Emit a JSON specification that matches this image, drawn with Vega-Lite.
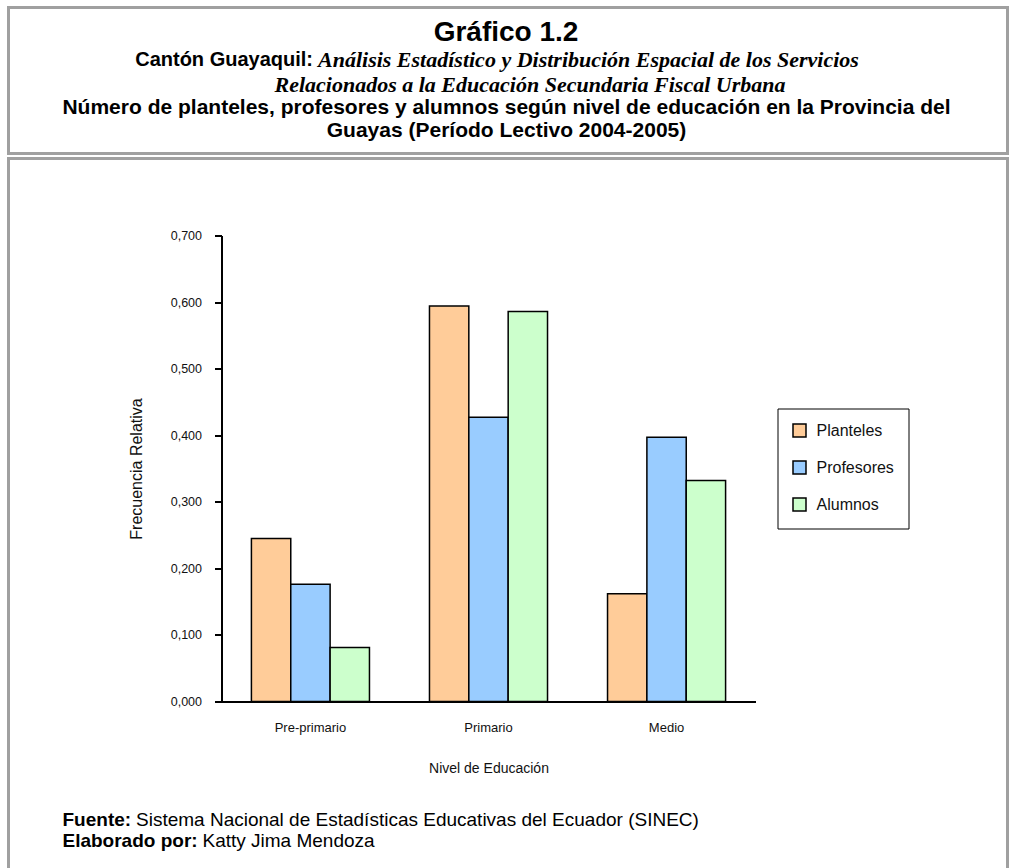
{
  "$schema": "https://vega.github.io/schema/vega-lite/v6.json",
  "padding": {"left": 6.5, "top": 5.5, "right": 0, "bottom": 0},
  "background": "white",
  "spacing": 1,
  "config": {
    "font": "Liberation Sans",
    "view": {"stroke": "#a0a0a0", "strokeWidth": 3},
    "text": {"color": "black"}
  },
  "vconcat": [
    {
      "width": 999,
      "height": 146,
      "encoding": {
        "y": {"field": "line", "type": "ordinal", "axis": null, "scale": {"type": "point", "padding": 0, "domain": [1, 2, 3, 4, 5], "range": [32, 123]}},
        "text": {"field": "text", "type": "nominal"}
      },
      "layer": [
        {
          "data": {"values": [{"line": 1, "text": "Gráfico 1.2"}]},
          "mark": {"type": "text", "fontSize": 28, "fontWeight": "bold", "align": "center", "baseline": "middle", "dy": -7, "dx": -2}
        },
        {
          "data": {"values": [{"line": 2, "text": "Cantón Guayaquil:"}]},
          "mark": {"type": "text", "fontSize": 20, "fontWeight": "bold", "align": "right", "baseline": "middle", "dx": -195, "dy": -2}
        },
        {
          "data": {"values": [{"line": 2, "text": "Análisis Estadístico y Distribución Espacial de los Servicios"}]},
          "mark": {"type": "text", "font": "Liberation Serif", "fontSize": 22, "fontWeight": "bold", "fontStyle": "italic", "align": "left", "baseline": "middle", "dx": -190, "dy": -2}
        },
        {
          "data": {"values": [{"line": 3, "text": "Relacionados  a la Educación Secundaria Fiscal Urbana"}]},
          "mark": {"type": "text", "font": "Liberation Serif", "fontSize": 22, "fontWeight": "bold", "fontStyle": "italic", "align": "center", "baseline": "middle", "dx": 22, "dy": 0}
        },
        {
          "data": {"values": [
            {"line": 4, "text": "Número de planteles, profesores y alumnos según nivel de educación en la Provincia del"},
            {"line": 5, "text": "Guayas (Período Lectivo 2004-2005)"}
          ]},
          "mark": {"type": "text", "fontSize": 21, "fontWeight": "bold", "align": "center", "baseline": "middle", "dx": -1.5}
        }
      ]
    },
    {
      "width": 999,
      "height": 760,
      "layer": [
        {
          "data": {"values": [
            {"nivel": "Pre-primario", "serie": "Planteles", "valor": 0.245},
            {"nivel": "Pre-primario", "serie": "Profesores", "valor": 0.176},
            {"nivel": "Pre-primario", "serie": "Alumnos", "valor": 0.081},
            {"nivel": "Primario", "serie": "Planteles", "valor": 0.594},
            {"nivel": "Primario", "serie": "Profesores", "valor": 0.427},
            {"nivel": "Primario", "serie": "Alumnos", "valor": 0.586},
            {"nivel": "Medio", "serie": "Planteles", "valor": 0.162},
            {"nivel": "Medio", "serie": "Profesores", "valor": 0.397},
            {"nivel": "Medio", "serie": "Alumnos", "valor": 0.332}
          ]},
          "mark": {"type": "bar", "stroke": "black", "strokeWidth": 1.5},
          "encoding": {
            "x": {
              "field": "nivel", "type": "nominal", "sort": ["Pre-primario", "Primario", "Medio"],
              "scale": {"range": [213, 747], "paddingInner": 0.337, "paddingOuter": 0.168},
              "axis": {
                "title": "Nivel de Educación", "offset": -217, "ticks": false, "labelAngle": 0,
                "domainColor": "black", "domainWidth": 2, "labelFontSize": 13, "labelColor": "#111",
                "labelPadding": 20, "titleFontSize": 14, "titleFontWeight": "normal", "titleColor": "#111",
                "titlePadding": 27
              }
            },
            "y": {
              "field": "valor", "type": "quantitative",
              "scale": {"domain": [0, 0.7], "range": [543, 77]},
              "axis": {
                "title": "Frecuencia Relativa", "offset": -213,
                "values": [0, 0.1, 0.2, 0.3, 0.4, 0.5, 0.6, 0.7],
                "labelExpr": "replace(format(datum.value, '.3f'), '.', ',')",
                "grid": false, "domainColor": "black", "domainWidth": 2,
                "tickColor": "black", "tickWidth": 2, "tickSize": 7,
                "labelFontSize": 12.5, "labelColor": "#111", "labelPadding": 13,
                "titleFontSize": 16, "titleFontWeight": "normal", "titleColor": "#111", "titlePadding": 26
              }
            },
            "xOffset": {"field": "serie", "type": "nominal", "sort": ["Planteles", "Profesores", "Alumnos"]},
            "color": {
              "field": "serie", "type": "nominal",
              "scale": {"domain": ["Planteles", "Profesores", "Alumnos"], "range": ["#FFCC99", "#99CCFF", "#CCFFCC"]},
              "legend": {
                "orient": "none", "legendX": 769, "legendY": 401, "title": null,
                "strokeColor": "black", "fillColor": "white", "padding": 14,
                "symbolType": "square", "symbolSize": 169, "symbolStrokeColor": "black", "symbolStrokeWidth": 1.5,
                "labelFontSize": 16, "labelColor": "#111", "rowPadding": 17, "labelOffset": 9
              }
            }
          }
        },
        {
          "data": {"values": [{"text": "Fuente:"}]},
          "mark": {"type": "text", "fontSize": 19, "fontWeight": "bold", "align": "left", "baseline": "middle", "dx": -445.5, "dy": 281},
          "encoding": {"text": {"field": "text", "type": "nominal"}}
        },
        {
          "data": {"values": [{"text": "Sistema Nacional de Estadísticas Educativas del Ecuador (SINEC)"}]},
          "mark": {"type": "text", "fontSize": 19, "align": "left", "baseline": "middle", "dx": -372, "dy": 281},
          "encoding": {"text": {"field": "text", "type": "nominal"}}
        },
        {
          "data": {"values": [{"text": "Elaborado por:"}]},
          "mark": {"type": "text", "fontSize": 19, "fontWeight": "bold", "align": "left", "baseline": "middle", "dx": -445.5, "dy": 302},
          "encoding": {"text": {"field": "text", "type": "nominal"}}
        },
        {
          "data": {"values": [{"text": "Katty Jima Mendoza"}]},
          "mark": {"type": "text", "fontSize": 19, "align": "left", "baseline": "middle", "dx": -305.5, "dy": 302},
          "encoding": {"text": {"field": "text", "type": "nominal"}}
        }
      ]
    }
  ]
}
